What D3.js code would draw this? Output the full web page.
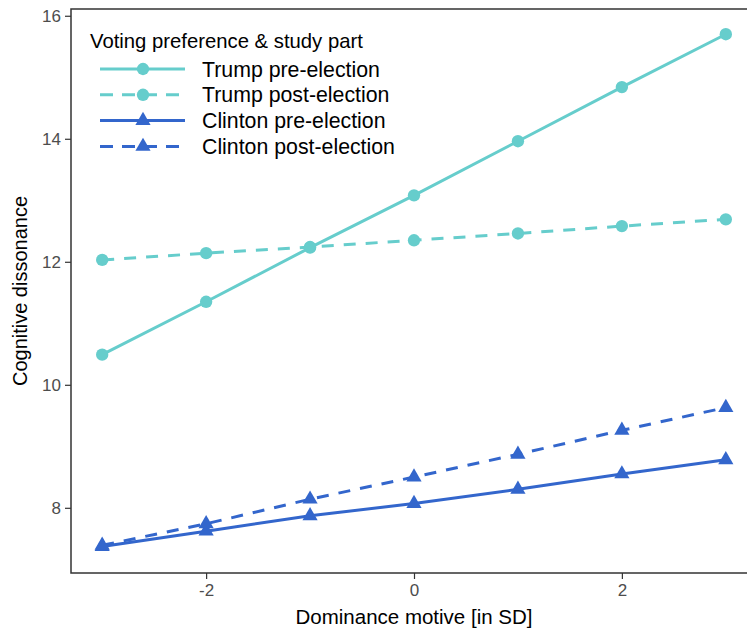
<!DOCTYPE html>
<html>
<head>
<meta charset="utf-8">
<script src="https://cdn.jsdelivr.net/npm/d3@7"></script>
<style>
  body { margin: 0; background: #fff; }
  text { font-family: "Liberation Sans", Arial, sans-serif; }
</style>
</head>
<body>
<div id="wrapper"></div>
<script>
// values
const xValues = [-3, -2, -1, 0, 1, 2, 3]
const trumpPre = [10.49, 11.35, 12.23, 13.08, 13.96, 14.84, 15.70]
const trumpPost = [12.03, 12.14, 12.24, 12.35, 12.46, 12.58, 12.69]
const clintonPre = [7.37, 7.62, 7.87, 8.07, 8.30, 8.55, 8.78]
const clintonPost = [7.39, 7.74, 8.14, 8.50, 8.87, 9.26, 9.63]
const xTicks = [-2, 0, 2]
const yTicks = [8, 10, 12, 14, 16]
const seriesNames = ["Trump pre-election", "Trump post-election", "Clinton pre-election", "Clinton post-election"]

const teal = "#66cdcc"
const blue = "#3366cc"

const series = [
  {name: seriesNames[0], values: trumpPre, color: teal, dashed: false, shape: "circle"},
  {name: seriesNames[1], values: trumpPost, color: teal, dashed: true, shape: "circle"},
  {name: seriesNames[2], values: clintonPre, color: blue, dashed: false, shape: "triangle"},
  {name: seriesNames[3], values: clintonPost, color: blue, dashed: true, shape: "triangle"},
]

let dimensions = {
  width: 747,
  height: 632,
  margin: {top: 9, left: 71, bottom: 59, right: -10},
}
dimensions.boundedWidth = dimensions.width - dimensions.margin.left - dimensions.margin.right
dimensions.boundedHeight = dimensions.height - dimensions.margin.top - dimensions.margin.bottom

const xScale = d3.scaleLinear()
  .domain([-3.3, 3.3])
  .range([0, dimensions.boundedWidth])

const yScale = d3.scaleLinear()
  .domain([6.94, 16.11])
  .range([dimensions.boundedHeight, 0])

const svg = d3.select("#wrapper")
  .append("svg")
  .attr("width", dimensions.width)
  .attr("height", dimensions.height)

svg.append("rect").attr("width", dimensions.width).attr("height", dimensions.height).attr("fill", "#fff")

const bounds = svg.append("g")
  .attr("transform", `translate(${dimensions.margin.left},${dimensions.margin.top})`)

const circleSym = d3.symbol().type(d3.symbolCircle).size(120)
const triSym = d3.symbol().type(d3.symbolTriangle).size(100)

// lines
const lineGenerator = d3.line()
  .x((d, i) => xScale(xValues[i]))
  .y(d => yScale(d))

series.forEach(s => {
  bounds.append("path")
    .attr("d", lineGenerator(s.values))
    .attr("fill", "none")
    .attr("stroke", s.color)
    .attr("stroke-width", 3)
    .attr("stroke-dasharray", s.dashed ? "12,10" : null)
})

series.forEach(s => {
  bounds.selectAll(null)
    .data(s.values)
    .join("path")
    .attr("d", s.shape == "circle" ? circleSym : triSym)
    .attr("transform", (d, i) => `translate(${xScale(xValues[i])},${yScale(d)})`)
    .attr("fill", s.color)
})

// axes
const xAxisGenerator = d3.axisBottom(xScale).tickValues(xTicks).tickFormat(d => String(d)).tickSize(6).tickPadding(5)
const xAxis = bounds.append("g")
  .attr("transform", `translate(0,${dimensions.boundedHeight})`)
  .call(xAxisGenerator)

const yAxisGenerator = d3.axisLeft(yScale).tickValues(yTicks).tickFormat(d => String(d)).tickSize(6).tickPadding(4)
const yAxis = bounds.append("g")
  .call(yAxisGenerator)

;[xAxis, yAxis].forEach(ax => {
  ax.select(".domain").remove()
  ax.selectAll(".tick line").attr("stroke", "#333").attr("stroke-width", 1.2)
  ax.selectAll(".tick text").attr("fill", "#4d4d4d").style("font-size", "17px")
    .style("font-family", "'Liberation Sans', Arial, sans-serif")
})

// panel border
bounds.append("rect")
  .attr("width", dimensions.boundedWidth)
  .attr("height", dimensions.boundedHeight)
  .attr("fill", "none")
  .attr("stroke", "#333")
  .attr("stroke-width", 1.5)

// axis titles
svg.append("text")
  .attr("x", dimensions.margin.left + xScale(0))
  .attr("y", 624)
  .attr("text-anchor", "middle")
  .style("font-size", "20.5px")
  .text("Dominance motive [in SD]")

svg.append("text")
  .attr("transform", `translate(27,${dimensions.margin.top + dimensions.boundedHeight / 2}) rotate(-90)`)
  .attr("text-anchor", "middle")
  .style("font-size", "20px")
  .text("Cognitive dissonance")

// legend
const legend = svg.append("g").attr("transform", "translate(90,0)")
legend.append("text")
  .attr("x", 0)
  .attr("y", 48)
  .style("font-size", "20.3px")
  .text("Voting preference & study part")

const rows = legend.selectAll(".row")
  .data(series)
  .join("g")
  .attr("class", "row")
  .attr("transform", (d, i) => `translate(0,${69 + i * 25.8})`)

rows.append("line")
  .attr("x1", 10).attr("x2", 95)
  .attr("stroke", d => d.color)
  .attr("stroke-width", 3)
  .attr("stroke-dasharray", d => d.dashed ? "13,9" : null)

rows.append("path")
  .attr("d", d => d.shape == "circle" ? circleSym() : triSym())
  .attr("transform", "translate(53,0)")
  .attr("fill", d => d.color)

rows.append("text")
  .attr("x", 112)
  .attr("y", 7.5)
  .style("font-size", "21.3px")
  .text(d => d.name)
</script>
</body>
</html>
